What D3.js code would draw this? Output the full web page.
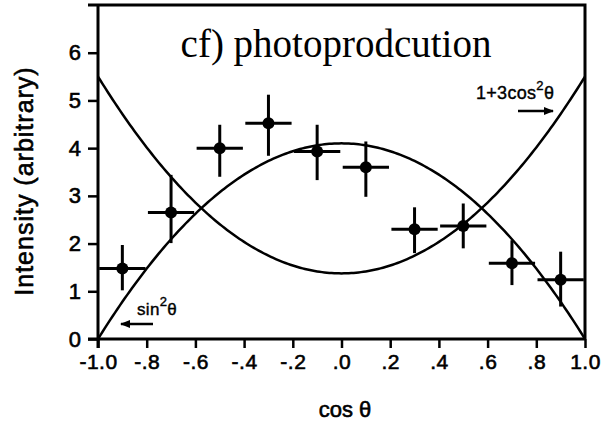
<!DOCTYPE html>
<html>
<head>
<meta charset="utf-8">
<script src="https://cdn.jsdelivr.net/npm/d3@7"></script>
<style>
  html, body { margin: 0; padding: 0; background: #fff; }
  svg { display: block; }
  .tick text { font-family: "Liberation Sans", Arial, sans-serif; }
</style>
</head>
<body>
<svg id="chart" width="605" height="427"></svg>
<script>
// Measured angular distribution, binned in cos(theta)
const cosBins   = [-0.9, -0.7, -0.5, -0.3, -0.1, 0.1, 0.3, 0.5, 0.7, 0.9];
const intensity = [1.48, 2.65, 4.00, 4.52, 3.93, 3.60, 2.30, 2.37, 1.59, 1.24];
const errLow    = [1.02, 2.01, 3.40, 3.84, 3.33, 2.98, 1.80, 1.90, 1.13, 0.68];
const errHigh   = [1.97, 3.44, 4.49, 5.12, 4.49, 4.14, 2.76, 2.84, 2.07, 1.83];
const binHalfWidth = 0.095;

// Axis ticks
const xTicks = [-1.0, -0.8, -0.6, -0.4, -0.2, 0.0, 0.2, 0.4, 0.6, 0.8, 1.0];
const xTickLabels = ["-1.0", "-.8", "-.6", "-.4", "-.2", ".0", ".2", ".4", ".6", ".8", "1.0"];
const yTicks = [0, 1, 2, 3, 4, 5, 6];

// Theoretical shapes, normalised to the data
const ampCos2 = 1.375;   // A * (1 + 3 cos^2)
const ampSin2 = 4.1;     // B * sin^2

const svg = d3.select("#chart");
const padL = 98, padR = 585, padT = 5, padB = 339;

const x = d3.scaleLinear().domain([-1, 1]).range([padL, padR]);
const y = d3.scaleLinear().domain([0, 7]).range([padB, padT]);

const ink = "#000";
const sans = '"Liberation Sans", Arial, Helvetica, sans-serif';

// Slightly heavier lettering, like a printed figure
function heavy(sel, w) {
  return sel.attr("stroke", ink).attr("stroke-width", w).attr("paint-order", "stroke");
}

// Frame: top and right borders
svg.append("path")
  .attr("d", `M${padL - 10},${padT} H${padR} V${padB}`)
  .attr("fill", "none").attr("stroke", ink).attr("stroke-width", 3);

// Bottom axis
const xAxis = d3.axisBottom(x).tickValues(xTicks)
  .tickFormat((d, i) => xTickLabels[i]).tickSize(9).tickSizeOuter(0).tickPadding(6);
const gx = svg.append("g").attr("transform", `translate(0,${padB})`).call(xAxis);
gx.select(".domain").attr("stroke-width", 3).attr("d", `M${padL - 10},0 H${padR}`);
gx.selectAll(".tick line").attr("stroke-width", 2.5);
heavy(gx.selectAll(".tick text").attr("font-size", 21).attr("fill", ink)
  .attr("letter-spacing", "0.5px"), 0.6);

// Left axis
const yAxis = d3.axisLeft(y).tickValues(yTicks).tickFormat(d3.format("d"))
  .tickSize(10).tickSizeOuter(0).tickPadding(7);
const gy = svg.append("g").attr("transform", `translate(${padL},0)`).call(yAxis);
gy.select(".domain").attr("stroke-width", 3).attr("d", `M0,${padT} V${padB + 9}`);
gy.selectAll(".tick line").attr("stroke-width", 2.5);
heavy(gy.selectAll(".tick text").attr("font-size", 22).attr("fill", ink), 0.6);

// Curves
const xs = d3.range(-1, 1.0001, 0.01);
const line = d3.line().x(d => x(d[0])).y(d => y(d[1])).curve(d3.curveLinear);
svg.append("path")
  .datum(xs.map(c => [c, ampCos2 * (1 + 3 * c * c)]))
  .attr("d", line).attr("fill", "none").attr("stroke", ink).attr("stroke-width", 2.5);
svg.append("path")
  .datum(xs.map(c => [c, ampSin2 * (1 - c * c)]))
  .attr("d", line).attr("fill", "none").attr("stroke", ink).attr("stroke-width", 2.5);

// Data points with error bars
const pts = cosBins.map((c, i) => ({ c, v: intensity[i], lo: errLow[i], hi: errHigh[i] }));
const gp = svg.append("g");
gp.selectAll("line.h").data(pts).join("line").attr("class", "h")
  .attr("x1", d => x(d.c - binHalfWidth)).attr("x2", d => x(d.c + binHalfWidth))
  .attr("y1", d => y(d.v)).attr("y2", d => y(d.v))
  .attr("stroke", ink).attr("stroke-width", 3);
gp.selectAll("line.v").data(pts).join("line").attr("class", "v")
  .attr("x1", d => x(d.c)).attr("x2", d => x(d.c))
  .attr("y1", d => y(d.lo)).attr("y2", d => y(d.hi))
  .attr("stroke", ink).attr("stroke-width", 3);
gp.selectAll("circle").data(pts).join("circle")
  .attr("cx", d => x(d.c)).attr("cy", d => y(d.v)).attr("r", 6).attr("fill", ink);

// Arrowhead marker
const defs = svg.append("defs");
defs.append("marker").attr("id", "arrow").attr("viewBox", "0 0 10 10")
  .attr("refX", 9).attr("refY", 5).attr("markerWidth", 4).attr("markerHeight", 4)
  .attr("orient", "auto-start-reverse").attr("markerUnits", "strokeWidth")
  .append("path").attr("d", "M0,1 L10,5 L0,9 Z").attr("fill", ink);

// Curve annotations
const cosLbl = heavy(svg.append("text").attr("x", 476).attr("y", 99)
  .attr("font-family", sans).attr("font-size", 18).attr("letter-spacing", "0.3px")
  .attr("fill", ink), 0.4);
cosLbl.append("tspan").text("1+3cos");
cosLbl.append("tspan").attr("dy", -9).attr("font-size", 13).text("2");
cosLbl.append("tspan").attr("dy", 9).text("θ");
svg.append("line").attr("x1", 518).attr("x2", 553).attr("y1", 111).attr("y2", 111)
  .attr("stroke", ink).attr("stroke-width", 2.5).attr("marker-end", "url(#arrow)");

const sinLbl = heavy(svg.append("text").attr("x", 137).attr("y", 315)
  .attr("font-family", sans).attr("font-size", 17).attr("letter-spacing", "0.3px")
  .attr("fill", ink), 0.4);
sinLbl.append("tspan").text("sin");
sinLbl.append("tspan").attr("dy", -9).attr("font-size", 13).text("2");
sinLbl.append("tspan").attr("dy", 9).text("θ");
svg.append("line").attr("x1", 153).attr("x2", 121).attr("y1", 324).attr("y2", 324)
  .attr("stroke", ink).attr("stroke-width", 2.5).attr("marker-end", "url(#arrow)");

// Title
svg.append("text").attr("x", 336).attr("y", 57).attr("text-anchor", "middle")
  .attr("font-family", '"Liberation Serif", "Times New Roman", serif')
  .attr("font-size", 39).attr("fill", ink).text("cf) photoprodcution");

// Axis titles
heavy(svg.append("text").attr("x", 345).attr("y", 417).attr("text-anchor", "middle")
  .attr("font-family", sans).attr("font-size", 22).attr("fill", ink).text("cos θ"), 0.6);
heavy(svg.append("text").attr("transform", "translate(33,181) rotate(-90)")
  .attr("text-anchor", "middle").attr("font-family", sans).attr("font-size", 25)
  .attr("letter-spacing", "1px").attr("fill", ink).text("Intensity (arbitrary)"), 0.6);
</script>
</body>
</html>
